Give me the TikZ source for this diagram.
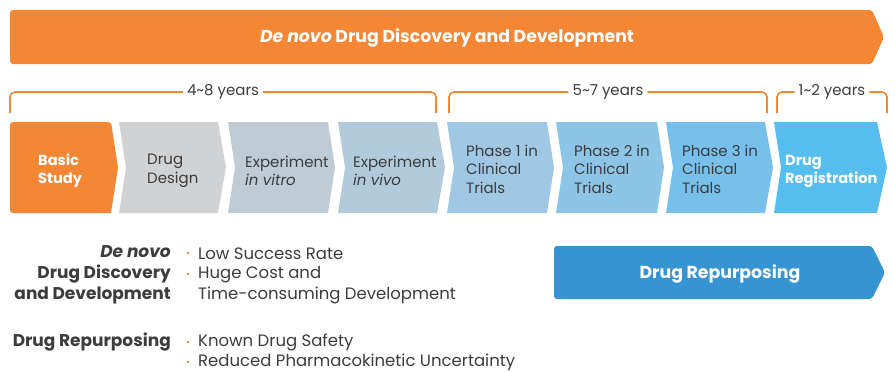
\documentclass[tikz,border=0pt]{standalone}
\usepackage{fontspec}
\setmainfont{Poppins}
\definecolor{cOrange}{HTML}{F58634}
\definecolor{cGray}{HTML}{D1D2D4}
\definecolor{cVitro}{HTML}{BFCCD6}
\definecolor{cVivo}{HTML}{B2CBDC}
\definecolor{cPOne}{HTML}{A0C8E4}
\definecolor{cPTwo}{HTML}{8DC5E7}
\definecolor{cPThree}{HTML}{76C0EB}
\definecolor{cReg}{HTML}{55BEEE}
\definecolor{cRep}{HTML}{3794D2}
\definecolor{cText}{HTML}{3C3C3C}
\begin{document}
\begin{tikzpicture}[x=1pt,y=-1pt,
  chevtext/.style={anchor=west,align=left,font=\fontsize{15}{18.5}\selectfont,text=cText,inner sep=0pt},
  chevbold/.style={anchor=west,align=left,font=\fontsize{14.6}{18}\selectfont\bfseries,text=white,inner sep=0pt},
  brace/.style={draw=cOrange,line width=1.6pt,rounded corners=5pt},
  yearlbl/.style={fill=white,inner xsep=4pt,inner ysep=1pt,font=\fontsize{15}{16}\selectfont,text=cText},
  bottxt/.style={anchor=west,align=left,font=\fontsize{16.5}{21}\selectfont,text=cText,inner sep=0pt},
  botlbl/.style={anchor=east,align=right,font=\fontsize{17}{21}\selectfont\bfseries,text=cText,inner sep=0pt},
  bul/.style={circle,fill=cOrange,minimum size=2.6pt,inner sep=0pt}]
\useasboundingbox (0,0) rectangle (895,372);
% top banner
\fill[cOrange,rounded corners=3pt] (884,37) -- (872,10) -- (10,10) -- (10,64) -- (872,64) -- cycle;
\node[text=white,font=\fontsize{17.3}{20}\selectfont\bfseries] (banner) at (447,38) {\textit{De novo} Drug Discovery and Development};
% braces
\node[yearlbl] (y1) at (223,92) {4\textasciitilde8 years};
\draw[brace] (10,113) -- (10,92) -- (y1.west);
\draw[brace] (y1.east) -- (436,92) -- (436,113);
\node[yearlbl] (y2) at (608,92) {5\textasciitilde7 years};
\draw[brace] (449,113) -- (449,92) -- (y2.west);
\draw[brace] (y2.east) -- (767,92) -- (767,113);
\node[yearlbl] (y3) at (832,92) {1\textasciitilde2 years};
\draw[brace] (777,113) -- (777,92) -- (y3.west);
\draw[brace] (y3.east) -- (887,92) -- (887,113);
% chevrons
\fill[cOrange,rounded corners=3pt] (10,122) -- (111,122) [sharp corners] -- (118,167.5) -- (111,213) [rounded corners=3pt] -- (10,213) -- cycle;
\fill[cGray] (119,122) -- (218,122) -- (226,167.5) -- (218,213) -- (119,213) -- (126,167.5) -- cycle;
\fill[cVitro] (228,122) -- (328,122) -- (335,167.5) -- (328,213) -- (228,213) -- (235,167.5) -- cycle;
\fill[cVivo] (338,122) -- (437,122) -- (445,167.5) -- (437,213) -- (338,213) -- (345,167.5) -- cycle;
\fill[cPOne] (447,122) -- (547,122) -- (554,167.5) -- (547,213) -- (447,213) -- (454,167.5) -- cycle;
\fill[cPTwo] (556,122) -- (657,122) -- (664,167.5) -- (657,213) -- (556,213) -- (563,167.5) -- cycle;
\fill[cPThree] (666,122) -- (765,122) -- (773,167.5) -- (765,213) -- (666,213) -- (673,167.5) -- cycle;
\fill[cReg] (774,122) -- (877,122) -- (887,167.5) -- (877,213) -- (774,213) -- (781,167.5) -- cycle;
\node[chevbold] (basic) at (38,171) {Basic\\Study};
\node[chevtext] (design) at (147,171) {Drug\\Design};
\node[chevtext] (vitro) at (245,171) {Experiment\\\textit{in vitro}};
\node[chevtext] (vivo) at (353,171) {Experiment\\\textit{in vivo}};
\node[chevtext] (p1) at (466,169) {Phase 1 in\\Clinical\\Trials};
\node[chevtext] (p2) at (574,169) {Phase 2 in\\Clinical\\Trials};
\node[chevtext] (p3) at (682,169) {Phase 3 in\\Clinical\\Trials};
\node[chevbold] (reg) at (785,171) {Drug\\Registration};
% repurposing arrow
\fill[cRep,rounded corners=3pt] (885,272.5) -- (872,246) -- (554,246) -- (554,299) -- (872,299) -- cycle;
\node[text=white,font=\fontsize{17.3}{20}\selectfont\bfseries] (rep) at (720,273.5) {Drug Repurposing};
% bottom text
\node[botlbl] (dnlbl) at (171,275) {\textit{De novo}\\Drug Discovery\\and Development};
\node[bul] (b1) at (188,253) {};
\node[bul] (b2) at (188,274) {};
\node[bottxt] (t1) at (198,254) {Low Success Rate};
\node[bottxt] (t2) at (198,285.5) {Huge Cost and\\Time-consuming Development};
\node[botlbl] (drlbl) at (171,342) {Drug Repurposing};
\node[bul] (b3) at (188,342) {};
\node[bul] (b4) at (188,362) {};
\node[bottxt] (t3) at (198,342) {Known Drug Safety};
\node[bottxt] (t4) at (198,362) {Reduced Pharmacokinetic Uncertainty};
\end{tikzpicture}
\end{document}
